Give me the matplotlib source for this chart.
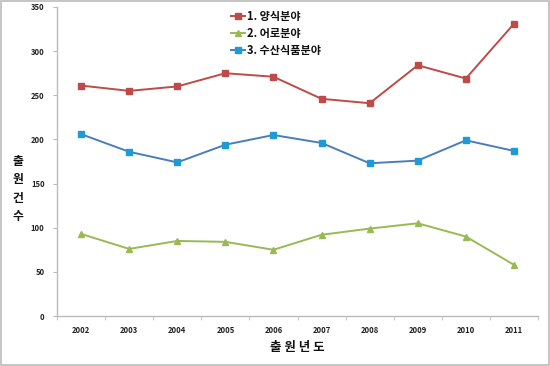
import numpy as np
import matplotlib
matplotlib.use("Agg")
import matplotlib.pyplot as plt
from matplotlib.patches import Rectangle

plt.rcParams['font.family'] = ['Noto Sans CJK KR', 'DejaVu Sans']

years = ['2002', '2003', '2004', '2005', '2006', '2007', '2008', '2009', '2010', '2011']
aquaculture = [261, 255, 260, 275, 271, 246, 241, 284, 269, 331]
fishing = [93, 76, 85, 84, 75, 92, 99, 105, 90, 58]
seafood = [206, 186, 174, 194, 205, 196, 173, 176, 199, 187]
labels = ['1. 양식분야', '2. 어로분야', '3. 수산식품분야']

fig = plt.figure(figsize=(5.5, 3.66), dpi=100)
ax = fig.add_axes([57/550, 1-316/366, (538-57)/550, (316-7)/366])

x = np.arange(len(years))
ax.plot(x, aquaculture, color='#BE4B48', lw=1.4, marker='s', ms=4,
        mfc='#BE4B48', mec='#BE4B48', label=labels[0])
ax.plot(x, fishing, color='#98B954', lw=1.4, marker='^', ms=4,
        mfc='#98B954', mec='#98B954', label=labels[1])
ax.plot(x, seafood, color='#4A7EBB', lw=1.4, marker='s', ms=4.5,
        mfc='#1E9BD7', mec='#1E9BD7', label=labels[2])

ax.set_xlim(-0.5, len(years) - 0.5)
ax.set_ylim(0, 350)
ax.set_yticks(range(0, 351, 50))
ax.set_xticks(x)
ax.set_xticklabels(years)
ax.set_xticks(np.arange(-0.5, len(years), 1), minor=True)
ax.tick_params(axis='x', which='major', length=0, pad=7, labelsize=5.5, colors='#333333')
ax.tick_params(axis='x', which='minor', length=3, color='#BBBBBB', direction='out')
ax.tick_params(axis='y', length=3, color='#BBBBBB', labelsize=5.5, colors='#333333', pad=6)
for t in ax.get_xticklabels() + ax.get_yticklabels():
    t.set_fontweight('bold')
    t.set_color('#222222')

for s in ['top', 'right']:
    ax.spines[s].set_visible(False)
for s in ['left', 'bottom']:
    ax.spines[s].set_color('#BBBBBB')
    ax.spines[s].set_linewidth(1.0)

fig.text(18/550, 1-189/366, '출\n원\n건\n수', ha='center', va='center',
         fontsize=8.5, fontweight='bold', linespacing=1.55, color='#111111')
fig.text(297/550, 1-348/366, '출 원 년 도', ha='center', va='center',
         fontsize=9, fontweight='bold', color='#111111')

leg = ax.legend(loc='upper left', bbox_to_anchor=(231/550, 1-10/366),
                bbox_transform=fig.transFigure, frameon=False,
                handlelength=1.3, handletextpad=0.1, labelspacing=0.35,
                borderpad=0, borderaxespad=0, prop={'weight': 'bold', 'size': 8})
for t in leg.get_texts():
    t.set_color('#111111')

fig.patches.append(Rectangle((0.001, 0.002), 0.997, 0.996, transform=fig.transFigure,
                             fill=False, edgecolor='#BBBBBB', lw=1.2))

fig.savefig('out.png', dpi=100)
